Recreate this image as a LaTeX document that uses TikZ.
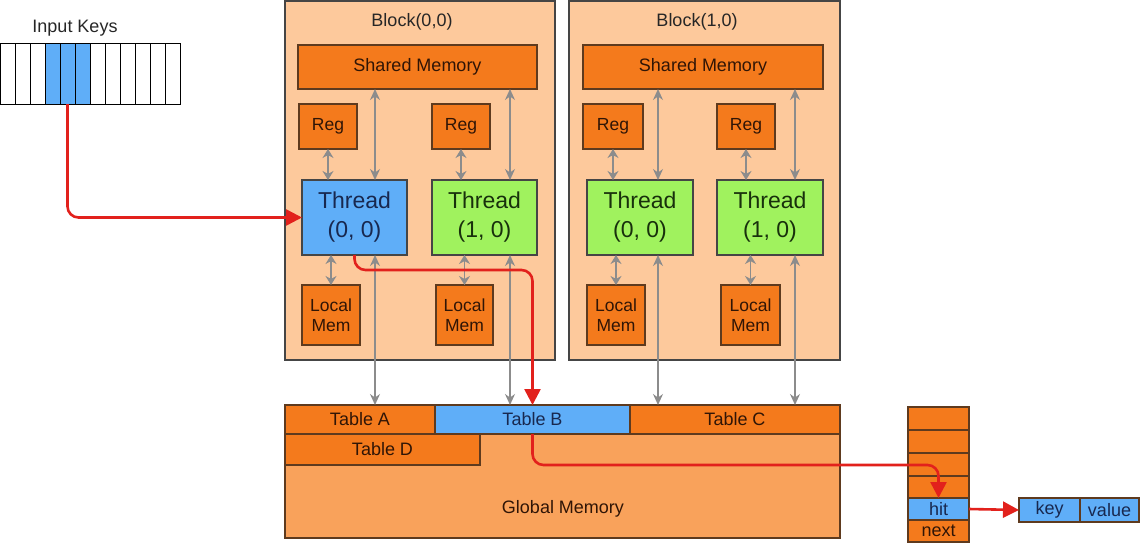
\documentclass[tikz,border=0pt]{standalone}
\usepackage{fontspec}
\setmainfont{Liberation Sans}
\usetikzlibrary{arrows.meta}
\definecolor{blockfill}{HTML}{FDC99C}
\definecolor{orbox}{HTML}{F47A1C}
\definecolor{gfill}{HTML}{F9A25B}
\definecolor{bluef}{HTML}{5FAEF8}
\definecolor{greenf}{HTML}{A0F25E}
\definecolor{obord}{HTML}{5E3A1E}
\definecolor{bbord}{HTML}{454545}
\definecolor{redl}{HTML}{E2211C}
\definecolor{grayl}{HTML}{8C8C8C}
\definecolor{bluetxt}{HTML}{18284F}
\definecolor{greentxt}{HTML}{18300C}
\definecolor{otxt}{HTML}{301506}
\tikzset{
  base/.style={anchor=north west, inner sep=0pt, outer sep=0pt, align=center, line width=1.1pt},
  blockbox/.style={base, fill=blockfill, draw=bbord, line width=1.3pt},
  obox/.style={base, fill=orbox, draw=obord, text=otxt, font=\fontsize{17.5}{20}\selectfont},
  thb/.style={base, fill=bluef, draw=bbord, text=bluetxt, font=\fontsize{23}{29}\selectfont},
  thg/.style={base, fill=greenf, draw=bbord, text=greentxt, font=\fontsize{23}{29}\selectfont},
  cellw/.style={base, fill=white, draw=black, line width=1pt, minimum width=15pt, minimum height=60pt},
  cellb/.style={cellw, fill=bluef},
  gbox/.style={base, fill=gfill, draw=obord},
  tbl/.style={base, draw=obord, text=otxt, font=\fontsize{18}{20}\selectfont},
  lbl/.style={font=\fontsize{18}{20}\selectfont, text=black!85},
  gdbl/.style={draw=grayl, line width=1.4pt, {Stealth[length=11pt,width=10pt]}-{Stealth[length=11pt,width=10pt]}},
  gshort/.style={draw=grayl, line width=1.8pt, {Stealth[length=9pt,width=11pt]}-{Stealth[length=9pt,width=11pt]}},
  redarr/.style={draw=redl, line width=2.6pt, rounded corners=11pt, -{Triangle[length=16pt,width=16pt]}},
}
\begin{document}
\begin{tikzpicture}[x=1pt,y=-1pt]
\useasboundingbox (0,0) rectangle (1140,543);
% input keys
\node[lbl] (inlbl) at (75,28) {Input Keys};
\foreach \i in {0,...,11}{
  \ifnum\i>2 \ifnum\i<6
    \node[cellb] (k\i) at (\i*15,44) {};
  \else
    \node[cellw] (k\i) at (\i*15,44) {};
  \fi\else
    \node[cellw] (k\i) at (\i*15,44) {};
  \fi
}
% blocks
\node[blockbox, minimum width=270pt, minimum height=359pt] (b0) at (285,1) {};
\node[blockbox, minimum width=271pt, minimum height=359pt] (b1) at (569,1) {};
\node[lbl] (b0t) at (412,22) {Block(0,0)};
\node[lbl] (b1t) at (697,22) {Block(1,0)};
% shared
\node[obox, font=\fontsize{18}{20}\selectfont, minimum width=239pt, minimum height=44pt] (s0) at (298,45) {Shared Memory};
\node[obox, font=\fontsize{18}{20}\selectfont, minimum width=240pt, minimum height=44pt] (s1) at (583,45) {Shared Memory};
% regs
\node[obox, minimum width=58pt, minimum height=45pt] (r0) at (299,104) {Reg};
\node[obox, minimum width=58pt, minimum height=45pt] (r1) at (432,104) {Reg};
\node[obox, minimum width=60pt, minimum height=45pt] (r2) at (583,104) {Reg};
\node[obox, minimum width=58pt, minimum height=45pt] (r3) at (717,104) {Reg};
% threads
\node[thb, minimum width=105pt, minimum height=75pt] (t0) at (302,180) {Thread\\(0, 0)};
\node[thg, minimum width=105pt, minimum height=75pt] (t1) at (432,180) {Thread\\(1, 0)};
\node[thg, minimum width=106pt, minimum height=75pt] (t2) at (587,180) {Thread\\(0, 0)};
\node[thg, minimum width=106pt, minimum height=75pt] (t3) at (717,180) {Thread\\(1, 0)};
% local
\node[obox, minimum width=58pt, minimum height=60pt] (l0) at (302,285) {Local\\Mem};
\node[obox, minimum width=57pt, minimum height=60pt] (l1) at (436,285) {Local\\Mem};
\node[obox, minimum width=58pt, minimum height=60pt] (l2) at (587,285) {Local\\Mem};
\node[obox, minimum width=59pt, minimum height=60pt] (l3) at (721,285) {Local\\Mem};
% global memory
\node[gbox, minimum width=555pt, minimum height=133pt] (gm) at (285,405) {};
\node[lbl, text=otxt] (gml) at (563,509) {Global Memory};
\node[tbl, fill=orbox, minimum width=150pt, minimum height=29pt] (ta) at (285,405) {Table A};
\node[tbl, fill=bluef, text=bluetxt, minimum width=195pt, minimum height=29pt] (tb) at (435,405) {Table B};
\node[tbl, fill=orbox, minimum width=210pt, minimum height=29pt] (tc) at (630,405) {Table C};
\node[tbl, fill=orbox, minimum width=195pt, minimum height=31pt] (td) at (285,434) {Table D};
% hash bucket
\node[tbl, fill=orbox, minimum width=61pt, minimum height=23pt] (h0) at (908,407) {};
\node[tbl, fill=orbox, minimum width=61pt, minimum height=23pt] (h1) at (908,430) {};
\node[tbl, fill=orbox, minimum width=61pt, minimum height=23pt] (h2) at (908,453) {};
\node[tbl, fill=orbox, minimum width=61pt, minimum height=22pt] (h3) at (908,476) {};
\node[tbl, fill=bluef, text=bluetxt, minimum width=61pt, minimum height=22pt] (hit) at (908,498) {hit};
\node[tbl, fill=orbox, minimum width=61pt, minimum height=22pt] (nxt) at (908,520) {next};
\node[tbl, fill=bluef, text=bluetxt, minimum width=61pt, minimum height=24pt] (key) at (1019,498) {key};
\node[tbl, fill=bluef, text=bluetxt, minimum width=59pt, minimum height=24pt] (val) at (1080,498) {value};
% gray arrows: reg-thread
\foreach \r/\t in {r0/t0,r1/t1,r2/t2,r3/t3}{
  \draw[gshort] (\r.south) -- (\r.south |- \t.north);
}
\foreach \l/\t in {l0/t0,l1/t1,l2/t2,l3/t3}{
  \draw[gshort] (\l.north) -- (\l.north |- \t.south);
}
% shared-thread and thread-global
\draw[gdbl] ([xshift=20.5pt]t0.north) -- ([xshift=20.5pt]t0.north |- s0.south);
\draw[gdbl] ([xshift=25.5pt]t1.north) -- ([xshift=25.5pt]t1.north |- s0.south);
\draw[gdbl] ([xshift=18pt]t2.north) -- ([xshift=18pt]t2.north |- s1.south);
\draw[gdbl] ([xshift=25pt]t3.north) -- ([xshift=25pt]t3.north |- s1.south);
\draw[gdbl] ([xshift=20.5pt]t0.south) -- ([xshift=20.5pt]t0.south |- ta.north);
\draw[gdbl] ([xshift=25.5pt]t1.south) -- ([xshift=25.5pt]t1.south |- tb.north);
\draw[gdbl] ([xshift=18pt]t2.south) -- ([xshift=18pt]t2.south |- tc.north);
\draw[gdbl] ([xshift=25pt]t3.south) -- ([xshift=25pt]t3.south |- tc.north);
% red path
\draw[redarr] (k4.south) |- (t0.west);
\draw[redarr] (t0.south) -- ++(0,15) -| (tb.north);
\draw[redarr] (tb.south) -- ++(0,31) -| (hit.north);
\draw[redarr, rounded corners=0pt] (hit.east) -- (key.west);
\end{tikzpicture}
\end{document}
